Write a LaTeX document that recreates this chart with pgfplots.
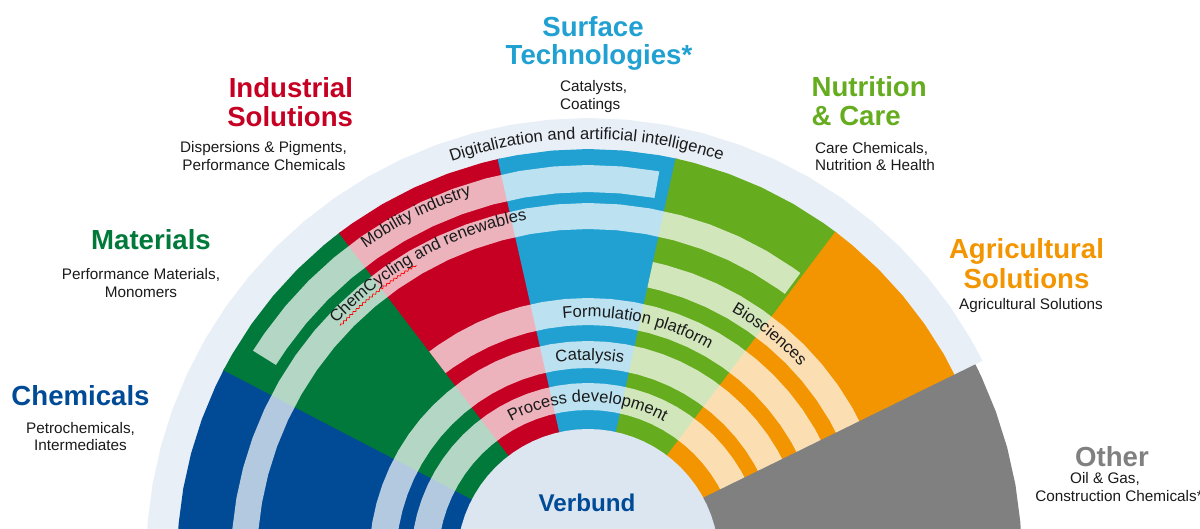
\documentclass[border=0pt]{standalone}
\usepackage{fontspec}
\setmainfont{Liberation Sans}
\usepackage{pgfplots}
\pgfplotsset{compat=1.18}
\usepgfplotslibrary{polar}
\usetikzlibrary{decorations.text,decorations.pathmorphing}
\definecolor{cChem}{HTML}{004A96}
\definecolor{cMat}{HTML}{00793A}
\definecolor{cInd}{HTML}{C50022}
\definecolor{cSurf}{HTML}{21A0D2}
\definecolor{cNut}{HTML}{65AC1E}
\definecolor{cAgr}{HTML}{F39500}
\definecolor{cOth}{HTML}{808080}
\definecolor{cRing}{HTML}{E9EFF7}
\definecolor{cCore}{HTML}{DCE6F1}
\definecolor{txt}{HTML}{1A1A1A}
\newcommand\ttl{\fontsize{13.8pt}{16pt}\selectfont\bfseries}
\newcommand\sub{\fontsize{7.65pt}{9pt}\selectfont}
\newcommand\crv{\fontsize{8.3pt}{10pt}\selectfont}
\newcommand\vbf{\fontsize{12.1pt}{14pt}\selectfont\bfseries}
\begin{document}
\begin{tikzpicture}
\begin{axis}[x=0.5pt,y=0.5pt,xmin=-588,xmax=612,ymin=31,ymax=560,hide axis,clip=true]
% outer ring (Digitalization and artificial intelligence)
\addplot[draw=none,fill=cRing,data cs=polar] coordinates {(26.8,0) (26.8,442) (30,442) (35,442) (40,442) (45,442) (50,442) (55,442) (60,442) (65,442) (70,442) (75,442) (80,442) (85,442) (90,442) (95,442) (100,442) (105,442) (110,442) (115,442) (120,442) (125,442) (130,442) (135,442) (140,442) (145,442) (150,442) (155,442) (160,442) (165,442) (170,442) (175,442) (180,442) (185,442)};
% segments
\addplot[draw=none,fill=cChem,data cs=polar] coordinates {(152.2,0) (152.2,411) (155,411) (160,411) (165,411) (170,411) (175,411) (180,411) (185,411)};
\addplot[draw=none,fill=cMat,data cs=polar] coordinates {(127,0) (127,411) (130,411) (135,411) (140,411) (145,411) (150,411) (152.5,411)};
\addplot[draw=none,fill=cInd,data cs=polar] coordinates {(102.4,0) (102.4,411) (105,411) (110,411) (115,411) (120,411) (125,411) (127.3,411)};
\addplot[draw=none,fill=cSurf,data cs=polar] coordinates {(77.4,0) (77.4,411) (80,411) (85,411) (90,411) (95,411) (100,411) (102.7,411)};
\addplot[draw=none,fill=cNut,data cs=polar] coordinates {(52.7,0) (52.7,411) (55,411) (60,411) (65,411) (70,411) (75,411) (77.7,411)};
\addplot[draw=none,fill=cAgr,data cs=polar] coordinates {(25,0) (25,411) (30,411) (35,411) (40,411) (45,411) (50,411) (53,411)};
% bands
% Mobility industry
\addplot[draw=none,fill=white,fill opacity=0.7,data cs=polar] coordinates {(79.6,395) (80,395) (85,395) (90,395) (95,395) (100,395) (105,395) (110,395) (115,395) (120,395) (125,395) (130,395) (135,395) (140,395) (145,395) (148,395) (148,368) (145,368) (140,368) (135,368) (130,368) (125,368) (120,368) (115,368) (110,368) (105,368) (100,368) (95,368) (90,368) (85,368) (80,368) (79.6,368)};
% ChemCycling and renewables
\addplot[draw=none,fill=white,fill opacity=0.7,data cs=polar] coordinates {(53.5,357) (55,357) (60,357) (65,357) (70,357) (75,357) (80,357) (85,357) (90,357) (95,357) (100,357) (105,357) (110,357) (115,357) (120,357) (125,357) (130,357) (135,357) (140,357) (145,357) (150,357) (155,357) (160,357) (165,357) (170,357) (175,357) (180,357) (185,357) (185,331) (180,331) (175,331) (170,331) (165,331) (160,331) (155,331) (150,331) (145,331) (140,331) (135,331) (130,331) (125,331) (120,331) (115,331) (110,331) (105,331) (100,331) (95,331) (90,331) (85,331) (80,331) (75,331) (70,331) (65,331) (60,331) (55,331) (53.5,331)};
% Biosciences
\addplot[draw=none,fill=white,fill opacity=0.7,data cs=polar] coordinates {(25,305) (30,305) (35,305) (40,305) (45,305) (50,305) (55,305) (60,305) (65,305) (70,305) (75,305) (77.7,305) (77.7,279) (75,279) (70,279) (65,279) (60,279) (55,279) (50,279) (45,279) (40,279) (35,279) (30,279) (25,279)};
% Formulation platform
\addplot[draw=none,fill=white,fill opacity=0.7,data cs=polar] coordinates {(25,262) (30,262) (35,262) (40,262) (45,262) (50,262) (55,262) (60,262) (65,262) (70,262) (75,262) (80,262) (85,262) (90,262) (95,262) (100,262) (105,262) (110,262) (115,262) (120,262) (125,262) (127.3,262) (127.3,235) (125,235) (120,235) (115,235) (110,235) (105,235) (100,235) (95,235) (90,235) (85,235) (80,235) (75,235) (70,235) (65,235) (60,235) (55,235) (50,235) (45,235) (40,235) (35,235) (30,235) (25,235)};
% Catalysis
\addplot[draw=none,fill=white,fill opacity=0.7,data cs=polar] coordinates {(25,219) (30,219) (35,219) (40,219) (45,219) (50,219) (55,219) (60,219) (65,219) (70,219) (75,219) (80,219) (85,219) (90,219) (95,219) (100,219) (105,219) (110,219) (115,219) (120,219) (125,219) (130,219) (135,219) (140,219) (145,219) (150,219) (155,219) (160,219) (165,219) (170,219) (175,219) (180,219) (185,219) (185,192) (180,192) (175,192) (170,192) (165,192) (160,192) (155,192) (150,192) (145,192) (140,192) (135,192) (130,192) (125,192) (120,192) (115,192) (110,192) (105,192) (100,192) (95,192) (90,192) (85,192) (80,192) (75,192) (70,192) (65,192) (60,192) (55,192) (50,192) (45,192) (40,192) (35,192) (30,192) (25,192)};
% Process development
\addplot[draw=none,fill=white,fill opacity=0.7,data cs=polar] coordinates {(25,177) (30,177) (35,177) (40,177) (45,177) (50,177) (55,177) (60,177) (65,177) (70,177) (75,177) (80,177) (85,177) (90,177) (95,177) (100,177) (105,177) (110,177) (115,177) (120,177) (125,177) (130,177) (135,177) (140,177) (145,177) (150,177) (155,177) (160,177) (165,177) (170,177) (175,177) (180,177) (185,177) (185,150) (180,150) (175,150) (170,150) (165,150) (160,150) (155,150) (150,150) (145,150) (140,150) (135,150) (130,150) (125,150) (120,150) (115,150) (110,150) (105,150) (100,150) (95,150) (90,150) (85,150) (80,150) (75,150) (70,150) (65,150) (60,150) (55,150) (50,150) (45,150) (40,150) (35,150) (30,150) (25,150)};
% Other
\addplot[draw=none,fill=cOth,data cs=polar] coordinates {(28.4,131) (26.8,434) (25,434) (20,434) (15,434) (10,434) (5,434) (0,434) (-5,434) (-5,0)};
% Verbund core
\addplot[draw=none,fill=cCore,data cs=polar] coordinates {(-5,131) (0,131) (5,131) (10,131) (15,131) (20,131) (25,131) (30,131) (35,131) (40,131) (45,131) (50,131) (55,131) (60,131) (65,131) (70,131) (75,131) (80,131) (85,131) (90,131) (95,131) (100,131) (105,131) (110,131) (115,131) (120,131) (125,131) (130,131) (135,131) (140,131) (145,131) (150,131) (155,131) (160,131) (165,131) (170,131) (175,131) (180,131) (185,131)};
\coordinate (C) at (axis cs:0,0);
\coordinate (TL) at (axis cs:-588,560);
\coordinate (BR) at (axis cs:612,31);
\end{axis}
\begin{scope}[shift={(C)},x=0.5pt,y=0.5pt]
\path[decorate,decoration={text along path,text={|\crv|Digitalization and artificial intelligence},text align=center,text color=txt}] (115.4:421) arc[start angle=115.4,end angle=65,radius=421];
\path[decorate,decoration={text along path,text={|\crv|Mobility industry},text align=center,text color=txt}] (130:383) arc[start angle=130,end angle=103.2,radius=383];
\path[decorate,decoration={text along path,text={|\crv|ChemCycling and renewables},text align=center,text color=txt}] (140:345) arc[start angle=140,end angle=97,radius=345];
\path[decorate,decoration={text along path,text={|\crv|Biosciences},text align=center,text color=txt}] (65:287) arc[start angle=65,end angle=37.4,radius=287];
\path[decorate,decoration={text along path,text={|\crv|Formulation platform},text align=center,text color=txt}] (100:243) arc[start angle=100,end angle=56,radius=243];
\path[decorate,decoration={text along path,text={|\crv|Catalysis},text align=center,text color=txt}] (102:200) arc[start angle=102,end angle=77,radius=200];
\path[decorate,decoration={text along path,text={|\crv|Process development},text align=center,text color=txt}] (125:158) arc[start angle=125,end angle=55.4,radius=158];
\draw[red,line width=0.35pt,decorate,decoration={snake,amplitude=0.5pt,segment length=2.2pt}] (136.6:341) arc[start angle=136.6,end angle=120.2,radius=341];
\end{scope}
\begin{scope}[shift={(TL)},x=0.5pt,y=-0.5pt,every node/.style={inner sep=0pt,outer sep=0pt}]
\node[anchor=base,text=cSurf,font=\ttl] at (593,36.7) {Surface};
\node[anchor=base,text=cSurf,font=\ttl] at (599,65) {Technologies*};
\node[anchor=base west,text=txt,font=\sub] at (560,91.7) {Catalysts,};
\node[anchor=base west,text=txt,font=\sub] at (560,109.3) {Coatings};
\node[anchor=base east,text=cInd,font=\ttl] at (353,97.3) {Industrial};
\node[anchor=base east,text=cInd,font=\ttl] at (353,126.7) {Solutions};
\node[anchor=base,text=txt,font=\sub] at (263.5,152.7) {Dispersions \& Pigments,};
\node[anchor=base,text=txt,font=\sub] at (264,171) {Performance Chemicals};
\node[anchor=base west,text=cNut,font=\ttl] at (811.7,96.7) {Nutrition};
\node[anchor=base west,text=cNut,font=\ttl] at (811.7,126) {\& Care};
\node[anchor=base west,text=txt,font=\sub] at (815,153.3) {Care Chemicals,};
\node[anchor=base west,text=txt,font=\sub] at (815,171) {Nutrition \& Health};
\node[anchor=base,text=cMat,font=\ttl] at (151,250) {Materials};
\node[anchor=base,text=txt,font=\sub] at (141,279.3) {Performance Materials,};
\node[anchor=base,text=txt,font=\sub] at (141,297.3) {Monomers};
\node[anchor=base,text=cAgr,font=\ttl] at (1026.5,258.3) {Agricultural};
\node[anchor=base,text=cAgr,font=\ttl] at (1026.5,288.3) {Solutions};
\node[anchor=base,text=txt,font=\sub] at (1031,310) {Agricultural Solutions};
\node[anchor=base,text=cChem,font=\ttl] at (80.5,406) {Chemicals};
\node[anchor=base,text=txt,font=\sub] at (80.5,434) {Petrochemicals,};
\node[anchor=base,text=txt,font=\sub] at (80.5,450.7) {Intermediates};
\node[anchor=base,text=cOth,font=\ttl] at (1112,466.7) {Other};
\node[anchor=base,text=txt,font=\sub] at (1105,483.5) {Oil \& Gas,};
\node[anchor=base,text=txt,font=\sub] at (1119,501.7) {Construction Chemicals*};
\node[anchor=base,text=cChem,font=\vbf] at (587,511.7) {Verbund};
\end{scope}
\pgfresetboundingbox
\path (TL) rectangle (BR);
\end{tikzpicture}
\end{document}
